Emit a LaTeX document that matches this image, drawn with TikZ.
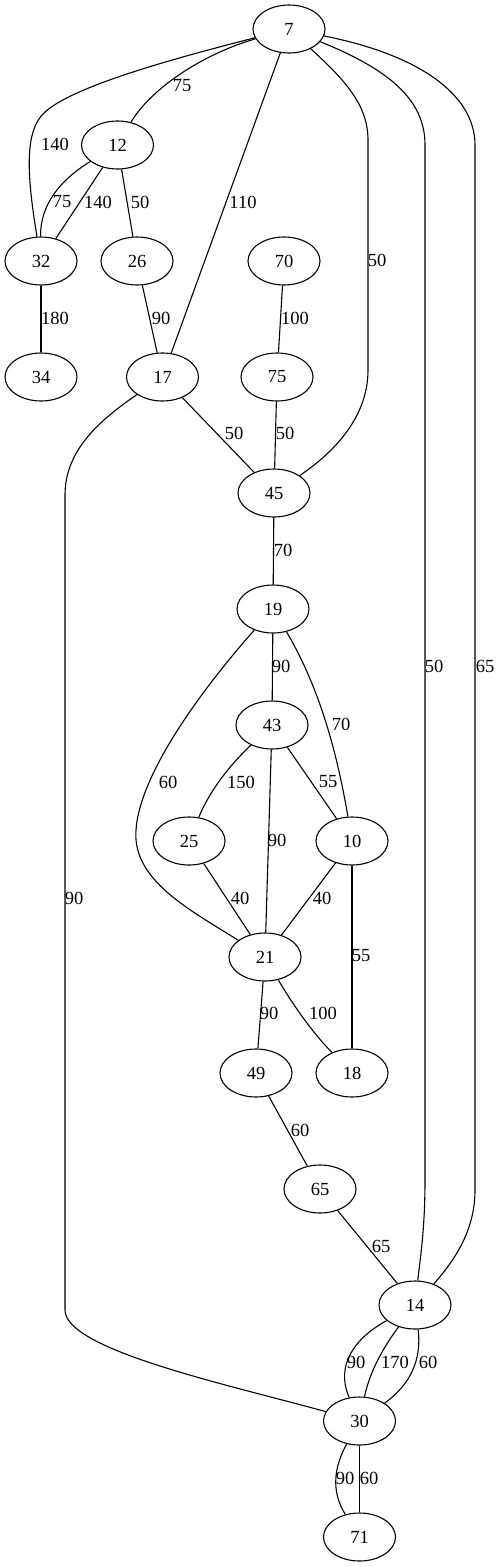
\documentclass[tikz,border=0pt]{standalone}
\usepackage{fontspec}
\setmainfont{Liberation Serif}
\usetikzlibrary{shapes.geometric}
\tikzset{
    vert/.style={ellipse, draw, minimum width=72pt, minimum height=48pt, inner sep=0pt},
    wt/.style={inner sep=0pt},
}

\begin{document}
\begin{tikzpicture}[x=1pt, y=-1pt, line width=1.1pt, font=\fontsize{18.5}{20}\selectfont]
    \useasboundingbox (0,0) rectangle (500,1567);

    % vertices, one rank per row
    \node[vert] (n7)  at (289,29)     {7};
    \node[vert] (n12) at (117.5,145)  {12};
    \node[vert] (n32) at (41,261)     {32};
    \node[vert] (n26) at (137,261)    {26};
    \node[vert] (n70) at (284,261)    {70};
    \node[vert] (n34) at (41,377)     {34};
    \node[vert] (n17) at (162.5,377)  {17};
    \node[vert] (n75) at (277,377)    {75};
    \node[vert] (n45) at (274,493)    {45};
    \node[vert] (n19) at (273,609)    {19};
    \node[vert] (n43) at (272,725)    {43};
    \node[vert] (n25) at (189,841)    {25};
    \node[vert] (n10) at (352,841)    {10};
    \node[vert] (n21) at (265,957)    {21};
    \node[vert] (n49) at (256,1073)   {49};
    \node[vert] (n18) at (352,1073)   {18};
    \node[vert] (n65) at (320,1189)   {65};
    \node[vert] (n14) at (415,1305)   {14};
    \node[vert] (n30) at (359.5,1421) {30};
    \node[vert] (n71) at (359.5,1537) {71};

    % edges
    \draw (n7) .. controls (200,55) and (150,90) .. (n12);
    \draw (n7) .. controls (180,57) and (75,85) .. (45,112)
               .. controls (25,130) and (26,170) .. (n32);
    \draw (n7) -- (n17);
    \draw (n7) .. controls (345,80) and (368,105) .. (368,140) -- (368,370)
               .. controls (368,420) and (330,455) .. (n45);
    \draw (n7) .. controls (390,70) and (425,100) .. (425,145) -- (425,1180)
               .. controls (425,1230) and (420,1260) .. (n14);
    \draw (n7) .. controls (420,55) and (475,95) .. (475,145) -- (475,1190)
               .. controls (475,1230) and (455,1260) .. (n14);
    \draw (n12) .. controls (60,180) and (40,205) .. (n32);
    \draw (n12) -- (n32);
    \draw (n12) -- (n26);
    \draw (n32) -- (n34);
    \draw (n26) -- (n17);
    \draw (n70) -- (n75);
    \draw (n17) -- (n45);
    \draw (n75) -- (n45);
    \draw (n17) .. controls (100,420) and (65,450) .. (65,495) -- (65,1310)
                .. controls (65,1350) and (230,1385) .. (n30);
    \draw (n45) -- (n19);
    \draw (n19) -- (n43);
    \draw (n19) .. controls (315,680) and (335,740) .. (n10);
    \draw (n19) .. controls (210,680) and (140,770) .. (136,830)
                .. controls (132,880) and (190,910) .. (n21);
    \draw (n43) .. controls (230,765) and (210,790) .. (n25);
    \draw (n43) -- (n21);
    \draw (n43) -- (n10);
    \draw (n25) -- (n21);
    \draw (n10) -- (n21);
    \draw (n10) -- (n18);
    \draw (n21) -- (n49);
    \draw (n21) .. controls (290,1000) and (310,1030) .. (n18);
    \draw (n49) -- (n65);
    \draw (n65) -- (n14);
    \draw (n14) .. controls (355,1338) and (335,1365) .. (n30);
    \draw (n14) .. controls (385,1345) and (370,1370) .. (n30);
    \draw (n14) .. controls (422,1360) and (410,1385) .. (n30);
    \draw (n30) .. controls (335,1465) and (330,1490) .. (n71);
    \draw (n30) -- (n71);

    % weights
    \node[wt] (w7-12)  at (182,86)   {75};
    \node[wt] (w7-32)  at (55,144)   {140};
    \node[wt] (w7-17)  at (243,202)  {110};
    \node[wt] (w7-45)  at (377,260)  {50};
    \node[wt] (w7-14a) at (434,666)  {50};
    \node[wt] (w7-14b) at (485,666)  {65};
    \node[wt] (w12-32a) at (62,202)  {75};
    \node[wt] (w12-32b) at (98,202)  {140};
    \node[wt] (w12-26) at (140,202)  {50};
    \node[wt] (w32-34) at (55,318)   {180};
    \node[wt] (w26-17) at (161,318)  {90};
    \node[wt] (w70-75) at (295,318)  {100};
    \node[wt] (w17-45) at (234,433)  {50};
    \node[wt] (w75-45) at (285,433)  {50};
    \node[wt] (w17-30) at (74,898)   {90};
    \node[wt] (w45-19) at (283,550)  {70};
    \node[wt] (w19-43) at (281,666)  {90};
    \node[wt] (w19-10) at (341,724)  {70};
    \node[wt] (w19-21) at (168,782)  {60};
    \node[wt] (w43-25) at (241,782)  {150};
    \node[wt] (w43-10) at (328,782)  {55};
    \node[wt] (w43-21) at (277,840)  {90};
    \node[wt] (w25-21) at (240,898)  {40};
    \node[wt] (w10-21) at (322,898)  {40};
    \node[wt] (w10-18) at (361,956)  {55};
    \node[wt] (w21-49) at (269,1013) {90};
    \node[wt] (w21-18) at (323,1013) {100};
    \node[wt] (w49-65) at (300,1130) {60};
    \node[wt] (w65-14) at (381,1246) {65};
    \node[wt] (w14-30a) at (356,1362) {90};
    \node[wt] (w14-30b) at (395,1362) {170};
    \node[wt] (w14-30c) at (428,1362) {60};
    \node[wt] (w30-71a) at (345,1478) {90};
    \node[wt] (w30-71b) at (369,1478) {60};
\end{tikzpicture}
\end{document}
